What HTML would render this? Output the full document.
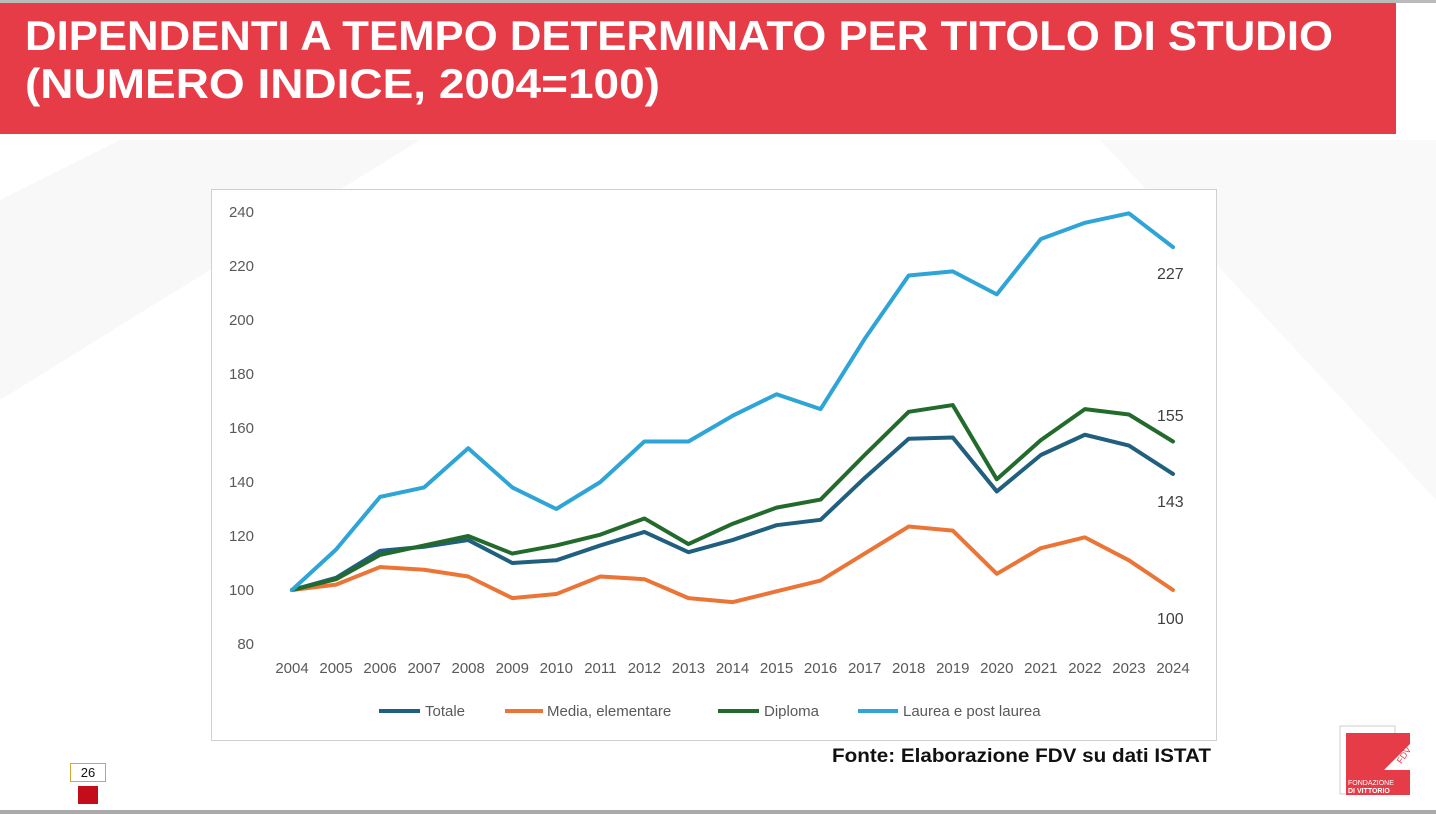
<!DOCTYPE html>
<html><head><meta charset="utf-8"><style>
body{margin:0;width:1436px;height:814px;overflow:hidden;background:#fff;font-family:"Liberation Sans",sans-serif}
</style></head><body>
<svg width="1436" height="814" xmlns="http://www.w3.org/2000/svg" style="position:absolute;left:0;top:0">
<polygon points="0,200 120,140 420,140 0,400" fill="#f8f8f8"/>
<polygon points="1100,140 1436,140 1436,500" fill="#f9f9f9"/>
<rect x="0" y="0" width="1436" height="3" fill="#bbb"/>
<rect x="0" y="3" width="1396" height="131" fill="#e63c48"/>
<text x="25" y="50" font-size="42" font-weight="bold" fill="#fff" textLength="1308" lengthAdjust="spacingAndGlyphs" font-family="Liberation Sans, sans-serif">DIPENDENTI A TEMPO DETERMINATO PER TITOLO DI STUDIO</text>
<text x="25" y="98" font-size="42" font-weight="bold" fill="#fff" textLength="635" lengthAdjust="spacingAndGlyphs" font-family="Liberation Sans, sans-serif">(NUMERO INDICE, 2004=100)</text>
<rect x="211.5" y="189.5" width="1005" height="551" fill="#fff" stroke="#d0d0d0"/>
<g id="ax" font-size="15" fill="#595959" font-family="Liberation Sans, sans-serif"></g>
<g id="lines" fill="none" stroke-width="4" stroke-linejoin="round" stroke-linecap="round"></g>
<g font-size="16" fill="#404040" font-family="Liberation Sans, sans-serif">
<text x="1157" y="279">227</text><text x="1157" y="421">155</text><text x="1157" y="507">143</text><text x="1157" y="624">100</text>
</g>
<g font-size="15" fill="#595959" font-family="Liberation Sans, sans-serif">
<line x1="379" y1="711" x2="420" y2="711" stroke="#215f7f" stroke-width="4"/><text x="425" y="716">Totale</text>
<line x1="505" y1="711" x2="543" y2="711" stroke="#ea7537" stroke-width="4"/><text x="547" y="716">Media, elementare</text>
<line x1="718" y1="711" x2="759" y2="711" stroke="#236b2c" stroke-width="4"/><text x="764" y="716">Diploma</text>
<line x1="858" y1="711" x2="898" y2="711" stroke="#2ea5d6" stroke-width="4"/><text x="903" y="716">Laurea e post laurea</text>
</g>
<text x="832" y="762" font-size="19" font-weight="bold" fill="#111" textLength="379" lengthAdjust="spacingAndGlyphs" font-family="Liberation Sans, sans-serif">Fonte: Elaborazione FDV su dati ISTAT</text>
<rect x="70.5" y="763.5" width="35" height="18" fill="#fff" stroke="#d8a530"/>
<text x="88" y="777" font-size="13" text-anchor="middle" fill="#111">26</text>
<rect x="78" y="786" width="20" height="18" fill="#c40d1a"/>
<rect x="0" y="810" width="1436" height="4" fill="#aaa"/>
<rect x="1340" y="726" width="55" height="68" fill="none" stroke="#ccc"/>
<rect x="1346" y="733" width="64" height="62" fill="#e63c48"/>
<polygon points="1412,742 1412,770 1384,770" fill="#fff"/>
<text x="1398" y="766" font-size="9" fill="#e63c48" transform="rotate(-55 1398 762)">FDV</text>
<text x="1348" y="785" font-size="7" fill="#fff">FONDAZIONE</text>
<text x="1348" y="793" font-size="7" font-weight="bold" fill="#fff">DI VITTORIO</text>
</svg>
<script>
var X=function(i){return 292+i*44.05},Y=function(v){return 644-(v-80)*2.7};
var ax=document.getElementById('ax'),s='';
for(var v=80;v<=240;v+=20)s+='<text x="254" y="'+(Y(v)+5)+'" text-anchor="end">'+v+'</text>';
for(var i=0;i<21;i++)s+='<text x="'+X(i)+'" y="673" text-anchor="middle">'+(2004+i)+'</text>';
ax.innerHTML=s;
var d=[
["#ea7537",[100,102,108.5,107.5,105,97,98.5,105,104,97,95.5,99.5,103.5,113.5,123.5,122,106,115.5,119.5,111,100]],
["#215f7f",[100,104.5,114.5,116,118.5,110,111,116.5,121.5,114,118.5,124,126,141.5,156,156.5,136.5,150,157.5,153.5,143]],
["#236b2c",[100,104,113,116.5,120,113.5,116.5,120.5,126.5,117,124.5,130.5,133.5,150,166,168.5,141,155.5,167,165,155]],
["#2ea5d6",[100,115,134.5,138,152.5,138,130,140,155,155,164.5,172.5,167,193,216.5,218,209.5,230,236,239.5,227]]];
var g='';d.forEach(function(a){g+='<polyline stroke="'+a[0]+'" points="'+a[1].map(function(v,i){return X(i)+','+Y(v)}).join(' ')+'"/>'});
document.getElementById('lines').innerHTML=g;
</script>
</body></html>
